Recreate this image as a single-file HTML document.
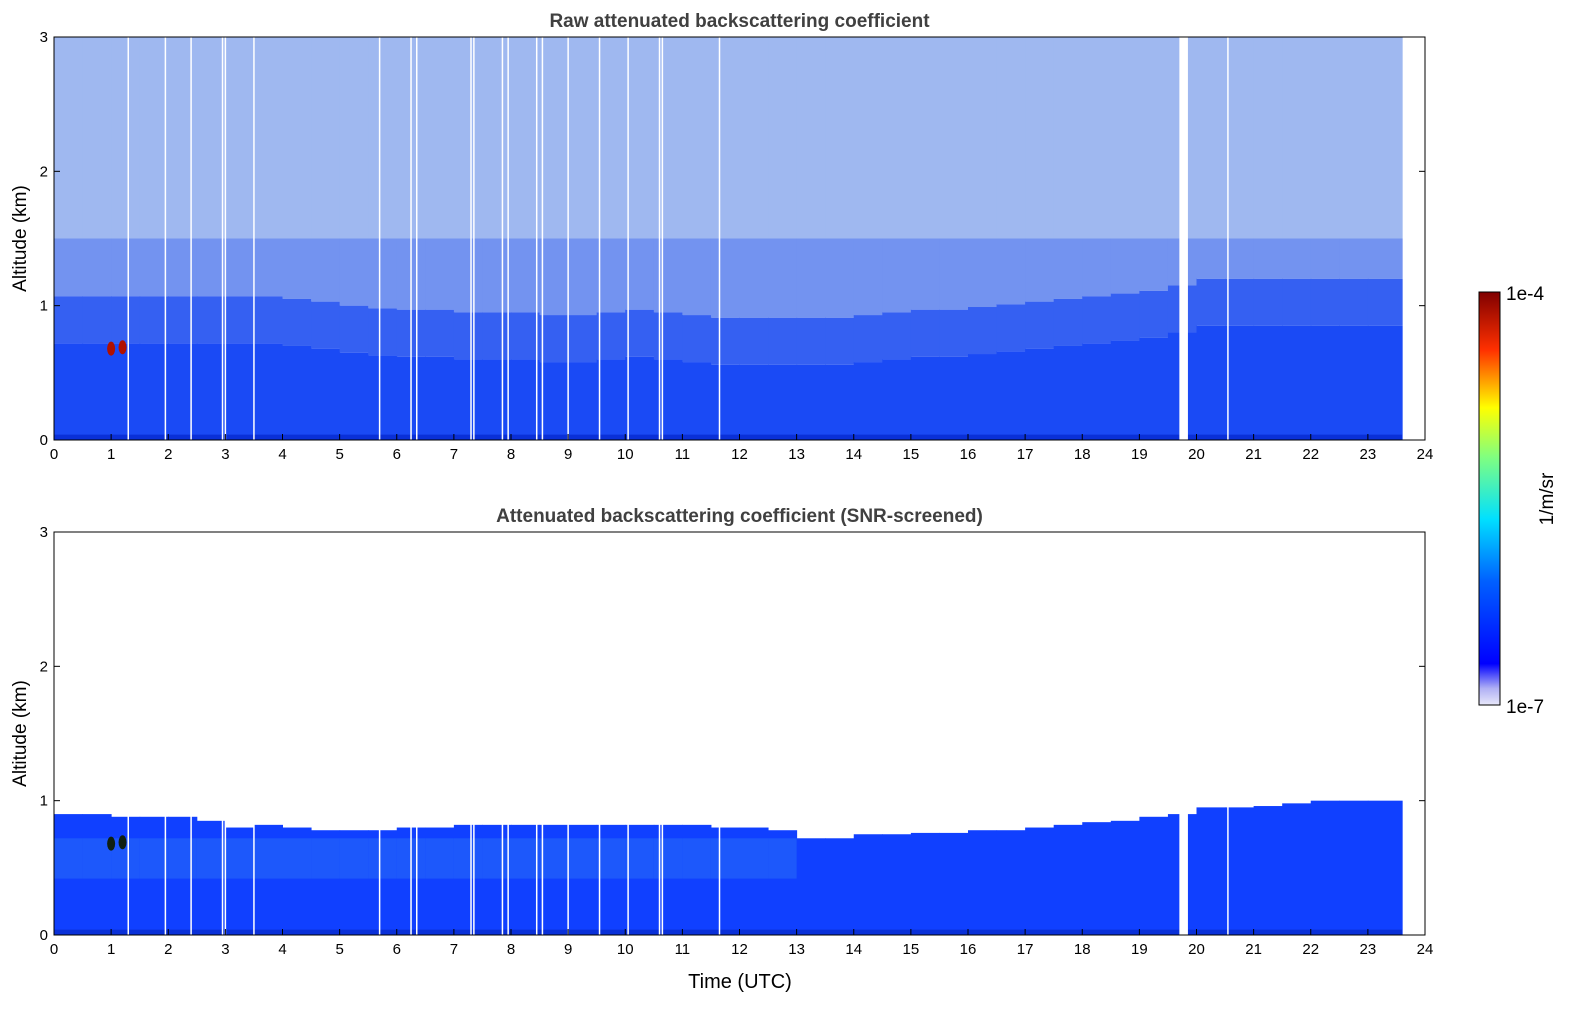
<!DOCTYPE html>
<html><head><meta charset="utf-8"><style>
body{margin:0;background:#fff;width:1595px;height:1020px;overflow:hidden}
text{font-family:"Liberation Sans","DejaVu Sans",sans-serif}
</style></head><body>
<svg id="fig" width="1595" height="1020" xmlns="http://www.w3.org/2000/svg">
<defs>
<linearGradient id="jet" x1="0" y1="1" x2="0" y2="0">
<stop offset="0" stop-color="#e8e8fa"/><stop offset="0.04" stop-color="#b0b0f5"/><stop offset="0.1" stop-color="#0000ff"/>
<stop offset="0.3" stop-color="#0060ff"/><stop offset="0.45" stop-color="#00e0ff"/><stop offset="0.6" stop-color="#80ff80"/>
<stop offset="0.72" stop-color="#ffff00"/><stop offset="0.86" stop-color="#ff3000"/><stop offset="1" stop-color="#800000"/>
</linearGradient>
</defs>
<g id="p1"></g>
<g id="p2"></g>
<g>
<rect x="1479" y="292" width="21" height="413" fill="url(#jet)" stroke="#000" stroke-width="1"/>
<text x="1506" y="300" font-size="19">1e-4</text>
<text x="1506" y="713" font-size="19">1e-7</text>
<text transform="translate(1553,499) rotate(-90)" font-size="19" text-anchor="middle">1/m/sr</text>
</g>
<text x="740" y="988" font-size="20" text-anchor="middle">Time (UTC)</text>
</svg>
<script>
const times=[0,0.5,1,1.5,2,2.5,3,3.5,4,4.5,5,5.5,6,6.5,7,7.5,8,8.5,9,9.5,10,10.5,11,11.5,12,12.5,13,13.5,14,14.5,15,15.5,16,16.5,17,17.5,18,18.5,19,19.5,20,20.5,21,21.5,22,22.5,23];
const rawBL=[0.72,0.72,0.72,0.72,0.72,0.72,0.72,0.72,0.7,0.68,0.65,0.63,0.62,0.62,0.6,0.6,0.6,0.58,0.58,0.6,0.62,0.6,0.58,0.56,0.56,0.56,0.56,0.56,0.58,0.6,0.62,0.62,0.64,0.66,0.68,0.7,0.72,0.74,0.76,0.8,0.85,0.85,0.85,0.85,0.85,0.85,0.85];
const snrBL=[0.9,0.9,0.88,0.88,0.88,0.85,0.8,0.82,0.8,0.78,0.78,0.78,0.8,0.8,0.82,0.82,0.82,0.82,0.82,0.82,0.82,0.82,0.82,0.8,0.8,0.78,0.72,0.72,0.75,0.75,0.76,0.76,0.78,0.78,0.8,0.82,0.84,0.85,0.88,0.9,0.95,0.95,0.96,0.98,1.0,1.0,1.0];
const dataEnd=23.6;
const gapTimes=[1.3,1.95,2.4,2.95,3.0,3.5,5.7,6.25,6.35,7.3,7.35,7.85,7.95,8.45,8.55,9.0,9.55,10.05,10.6,10.65,11.65,20.55];
const wideGap=[19.7,19.85];
const xTicks=[0,1,2,3,4,5,6,7,8,9,10,11,12,13,14,15,16,17,18,19,20,21,22,23,24];
const yTicks=[0,1,2,3];
const NS="http://www.w3.org/2000/svg";
function mk(p,tag,at){const e=document.createElementNS(NS,tag);for(const k in at)e.setAttribute(k,at[k]);p.appendChild(e);return e;}
function panel(g,top,title,bl,raw){
  const L=54,R=1425,B=top+403;
  const x=t=>L+t*(R-L)/24, y=a=>B-a*(B-top)/3;
  for(let i=0;i<times.length;i++){
    const t0=times[i],t1=(i==times.length-1)?dataEnd:Math.min(times[i]+0.5,dataEnd),h=bl[i];
    const w=x(t1)-x(t0)+0.5;
    if(raw){
      let r=mk(g,'rect',{x:x(t0),y:y(3),width:w,height:y(1.5)-y(3),fill:'#9fb8f0'});
      
      r=mk(g,'rect',{x:x(t0),y:y(1.5),width:w,height:y(h+0.35)-y(1.5),fill:'#7393f0'});
      
      r=mk(g,'rect',{x:x(t0),y:y(h+0.35),width:w,height:y(h)-y(h+0.35),fill:'#3560f2'});
      
      r=mk(g,'rect',{x:x(t0),y:y(h),width:w,height:B-y(h),fill:'#1a4af5'});
      
    } else {
      let r=mk(g,'rect',{x:x(t0),y:y(h),width:w,height:B-y(h),fill:'#1040ff'});
      
      if(t0<13){r=mk(g,'rect',{x:x(t0),y:y(Math.min(h,0.72)),width:w,height:y(0.42)-y(Math.min(h,0.72)),fill:'#1d58fb'});
      }
    }
  }
  let s=mk(g,'rect',{x:L,y:y(0.04),width:x(dataEnd)-L,height:B-y(0.04),fill:'#0a30d8'});
  
  [[1.0,0.68],[1.2,0.69]].forEach(p=>{const c=mk(g,'ellipse',{cx:x(p[0]),cy:y(p[1]),rx:4,ry:7,fill:raw?'#b01000':'#102010'});
    });
  gapTimes.forEach(t=>{const l=mk(g,'rect',{x:x(t)-0.75,y:top,width:1.5,height:B-top,fill:'#fff'});
    });
  let wg=mk(g,'rect',{x:x(wideGap[0]),y:top,width:x(wideGap[1])-x(wideGap[0]),height:B-top,fill:'#fff'});
  
  let fr=mk(g,'rect',{x:L,y:top,width:R-L,height:B-top,fill:'none',stroke:'#000','stroke-width':1});
  
  xTicks.forEach(t=>{mk(g,'line',{x1:x(t),x2:x(t),y1:B,y2:B-6,stroke:'#000'});
    const tx=mk(g,'text',{x:x(t),y:B+19,'font-size':15,'text-anchor':'middle'});tx.textContent=t;
    });
  yTicks.forEach(a=>{mk(g,'line',{x1:L,x2:L+6,y1:y(a),y2:y(a),stroke:'#000'});mk(g,'line',{x1:R,x2:R-6,y1:y(a),y2:y(a),stroke:'#000'});
    const tx=mk(g,'text',{x:L-6,y:y(a)+5,'font-size':15,'text-anchor':'end'});tx.textContent=a;
    });
  const tt=mk(g,'text',{x:(L+R)/2+0,y:top-10,'font-size':19,'font-weight':'bold',fill:'#404040','text-anchor':'middle'});tt.textContent=title;
  
  const yl=mk(g,'text',{transform:`translate(26,${(top+B)/2}) rotate(-90)`,'font-size':19,'text-anchor':'middle'});yl.textContent='Altitude (km)';
  
}
panel(document.getElementById('p1'),37,'Raw attenuated backscattering coefficient',rawBL,true);
panel(document.getElementById('p2'),532,'Attenuated backscattering coefficient (SNR-screened)',snrBL,false);
</script>
</body></html>
